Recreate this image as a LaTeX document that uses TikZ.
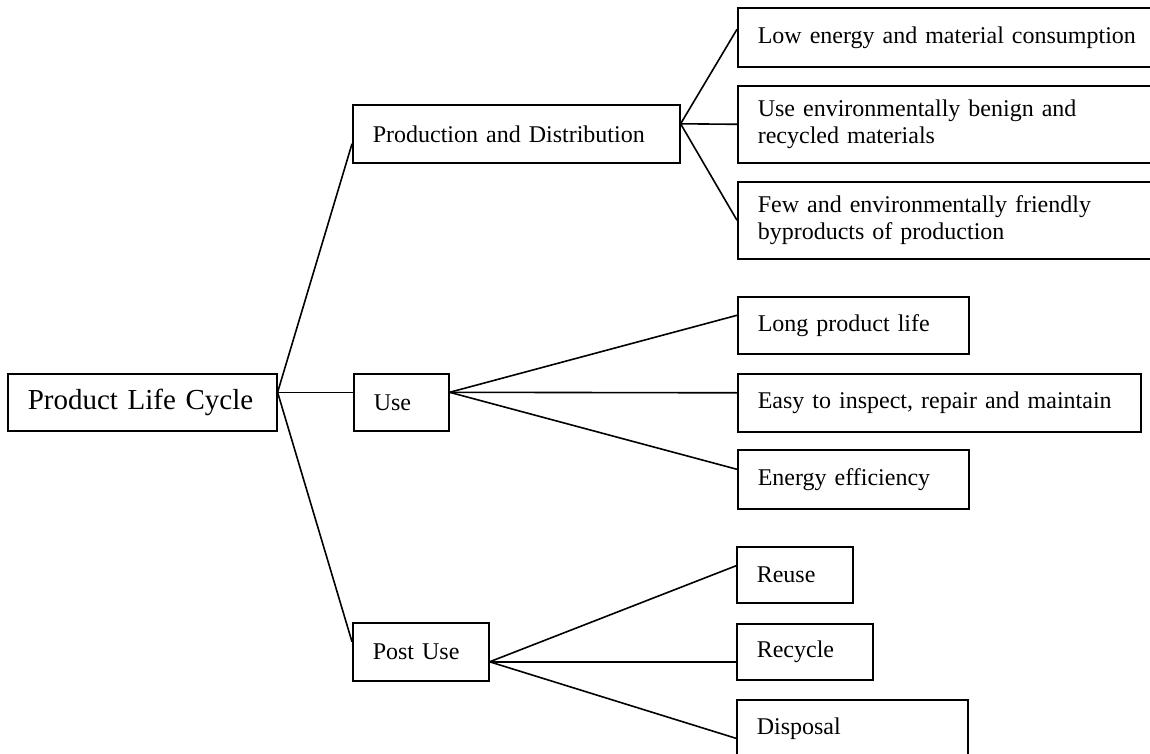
\documentclass[tikz,border=0pt]{standalone}
\usepackage{fontspec}
\setmainfont{Liberation Serif}
\usepackage{tikz}

\begin{document}
\begin{tikzpicture}[x=0.5pt, y=-0.5pt, thick, font=\fontsize{12}{13.5}\selectfont,
    main/.style = {draw, rectangle, anchor=north west, align=left, inner xsep=10pt, minimum height=28.5pt}]
      \useasboundingbox (0,0) rectangle (1150,754);%page as in the scan
      \node[main, text width=114.5pt, font=\fontsize{14.5}{17}\selectfont] (1) at (7,373) {Product Life Cycle};
      \node[main, text width=143.5pt, minimum height=29pt] (2) at (352,104) {Production and Distribution};
      \node[main, text width=27.5pt] (3) at (353,373) {Use};
      \node[main, text width=48pt, minimum height=29pt] (4) at (352,622) {Post Use};

      \node[main, text width=194pt, minimum height=29.5pt] (5) at (737,7) {Low energy and material consumption};
      \node[main, text width=194pt, minimum height=38.5pt] (6) at (737,85) {Use environmentally benign and\\recycled materials};
      \node[main, text width=194pt, minimum height=38.5pt] (7) at (737,181) {Few and environmentally friendly\\byproducts of production};

      \node[main, text width=95.5pt] (8) at (737,296) {Long product life};
      \node[main, text width=181.5pt, minimum height=29pt] (9) at (737,373) {Easy to inspect, repair and maintain};
      \node[main, text width=95.5pt, minimum height=29.5pt] (10) at (737,449) {Energy efficiency};

      \node[main, text width=38pt, minimum height=28pt] (11) at (736,546) {Reuse};
      \node[main, text width=48pt, minimum height=28pt] (12) at (736,623) {Recycle};
      \node[main, text width=95.5pt] (13) at (736,699) {Disposal};

      \path
      ([yshift=5pt]1.east) edge ([yshift=-5pt]2.west)
      ([yshift=5pt]1.east) edge ([yshift=5pt]3.west)
      ([yshift=5pt]1.east) edge ([yshift=5pt]4.west)
      ([yshift=5pt]2.east) edge ([yshift=4pt]5.west)
      ([yshift=5pt]2.east) edge (6.west)
      ([yshift=5pt]2.east) edge (7.west)
      ([yshift=5pt]3.east) edge ([yshift=5pt]8.west)
      ([yshift=5pt]3.east) edge ([yshift=5pt]9.west)
      ([yshift=5pt]3.east) edge ([yshift=5pt]10.west)
      ([yshift=-5pt]4.east) edge ([yshift=4.5pt]11.west)
      ([yshift=-5pt]4.east) edge ([yshift=-5pt]12.west)
      ([yshift=-5pt]4.east) edge ([yshift=-5pt]13.west);
    \end{tikzpicture}
\end{document}
